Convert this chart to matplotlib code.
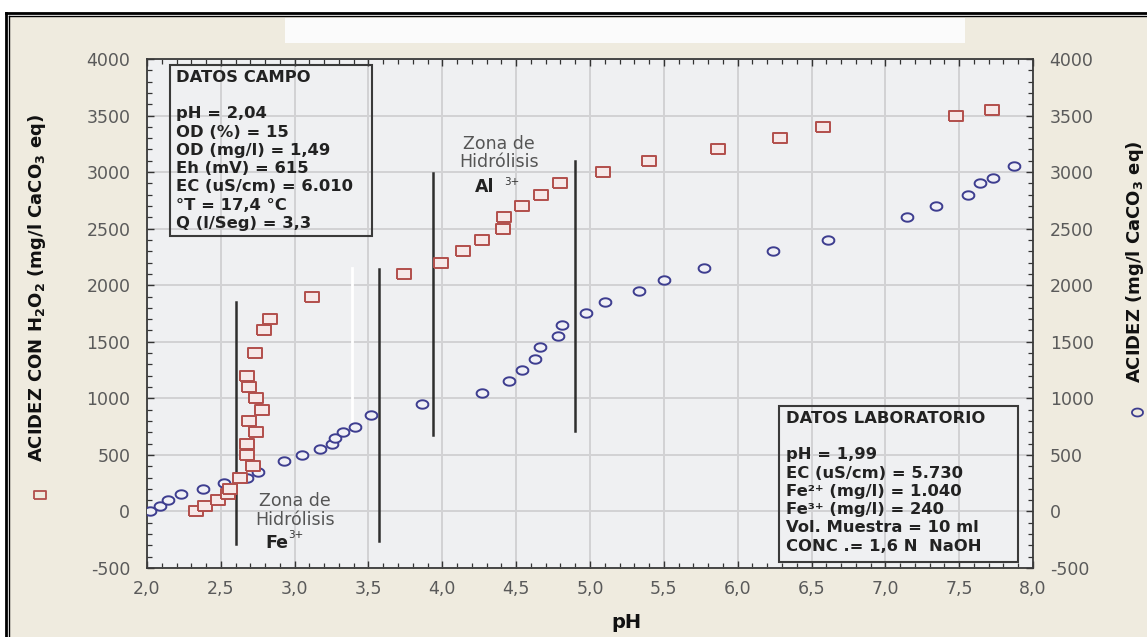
import matplotlib
matplotlib.use("Agg")
import matplotlib.pyplot as plt
from matplotlib.lines import Line2D
from matplotlib.patches import Rectangle
from matplotlib.ticker import MultipleLocator, FuncFormatter
import numpy as np

# ---------------- data ----------------
ph_h2o2 = [2.33, 2.39, 2.48, 2.55, 2.56, 2.63, 2.72, 2.675, 2.675, 2.74, 2.69, 2.78, 2.74,
           2.69, 2.675, 2.73, 2.79, 2.83, 3.12, 3.74, 3.99, 4.14, 4.27, 4.41, 4.42, 4.54,
           4.67, 4.80, 5.09, 5.40, 5.87, 6.29, 6.58, 7.48, 7.72]
acid_h2o2 = [0, 50, 100, 150, 200, 300, 400, 500, 600, 700, 800, 900, 1000,
             1100, 1200, 1400, 1600, 1700, 1900, 2100, 2200, 2300, 2400, 2500, 2600, 2700,
             2800, 2900, 3000, 3100, 3200, 3300, 3400, 3500, 3550]

ph_acid = [2.02, 2.09, 2.14, 2.23, 2.38, 2.52, 2.675, 2.75, 2.93, 3.05, 3.17, 3.25, 3.27,
           3.33, 3.41, 3.52, 3.86, 4.27, 4.45, 4.54, 4.63, 4.66, 4.78, 4.81, 4.97, 5.10,
           5.33, 5.50, 5.77, 6.24, 6.61, 7.15, 7.34, 7.56, 7.64, 7.73, 7.87]
acid = [0, 50, 100, 150, 200, 250, 300, 350, 450, 500, 550, 600, 650,
        700, 750, 850, 950, 1050, 1150, 1250, 1350, 1450, 1550, 1650, 1750, 1850,
        1950, 2050, 2150, 2300, 2400, 2600, 2700, 2800, 2900, 2950, 3050]

zone_x = [2.60, 3.57, 3.94, 4.90]
zone_bottom = [-290, -260, 680, 710]
zone_top = [1850, 2140, 2990, 3100]

campo_lines = ["DATOS CAMPO", "", "pH = 2,04", "OD (%) = 15", "OD (mg/l) = 1,49",
               "Eh (mV) = 615", "EC (uS/cm) = 6.010", "°T = 17,4 °C", "Q (l/Seg) = 3,3"]
lab_lines = ["DATOS LABORATORIO", "", "pH = 1,99", "EC (uS/cm) = 5.730",
             "Fe²⁺ (mg/l) = 1.040", "Fe³⁺ (mg/l) = 240",
             "Vol. Muestra = 10 ml", "CONC .= 1,6 N  NaOH"]

xlim = (2.0, 8.0)
ylim = (-500, 4000)

# ---------------- figure ----------------
W, H = 1147, 637
fig = plt.figure(figsize=(W / 100, H / 100), dpi=100, facecolor="white")
plt.rcParams["font.family"] = ["DejaVu Sans"]


def fx(px):
    return px / W


def fy(py):
    return 1 - py / H


# cream panel + borders
fig.add_artist(Rectangle((fx(9), 0), 1, fy(16), transform=fig.transFigure,
                         facecolor="#efebdf", edgecolor="none", zorder=-10))
fig.add_artist(Rectangle((fx(285), fy(43)), fx(965 - 285), (43 - 18) / H,
                         transform=fig.transFigure, facecolor="#fbfbfb",
                         edgecolor="none", zorder=-9))
for x in (5.5, 9.0):
    fig.add_artist(Line2D([fx(x), fx(x)], [0, fy(12.5 if x < 7 else 16)],
                          transform=fig.transFigure, color="black",
                          lw=2.0 if x < 7 else 1.0, zorder=-8))
for y, lw, x0 in ((12.5, 2.0, 5.5), (16.0, 1.0, 9.0)):
    fig.add_artist(Line2D([fx(x0), 1], [fy(y), fy(y)], transform=fig.transFigure,
                          color="black", lw=lw, zorder=-8))

ax = fig.add_axes([147 / W, 1 - 568 / H, (1033 - 147) / W, (568 - 59) / H])
ax.set_facecolor("#eff0f2")
ax.set_xlim(*xlim)
ax.set_ylim(*ylim)

ax.xaxis.set_major_locator(MultipleLocator(0.5))
ax.xaxis.set_minor_locator(MultipleLocator(0.1))
ax.yaxis.set_major_locator(MultipleLocator(500))
ax.yaxis.set_minor_locator(MultipleLocator(100))
ax.xaxis.set_major_formatter(FuncFormatter(lambda v, p: f"{v:.1f}".replace(".", ",")))
ax.yaxis.set_major_formatter(FuncFormatter(lambda v, p: f"{int(round(v))}"))

ax.grid(True, which="major", color="#d2d2d4", lw=1.4, zorder=0)
ax.set_axisbelow(True)
ax.tick_params(which="both", direction="in", top=True, right=True, color="#333333")
ax.tick_params(which="major", length=5, width=1)
ax.tick_params(which="minor", length=3.5, width=0.9)
ax.tick_params(axis="y", labelright=True, labelsize=12.5, labelcolor="#5a5a5a", pad=12)
ax.tick_params(axis="x", labelsize=12.5, labelcolor="#5a5a5a", pad=9)
for s in ax.spines.values():
    s.set_color("#3a3a3a")
    s.set_linewidth(1.3)

# marker shapes (horizontally stretched like the reference)
rect_marker = [(-0.72, -0.5), (0.72, -0.5), (0.72, 0.5), (-0.72, 0.5), (-0.72, -0.5)]
t = np.linspace(0, 2 * np.pi, 40)
ell_marker = list(zip(0.7 * np.cos(t), 0.5 * np.sin(t)))

# white artifact line
ax.plot([3.39, 3.39], [2150, 700], color="white", lw=2.0, zorder=1)

# zone lines
for x, b, tp in zip(zone_x, zone_bottom, zone_top):
    ax.plot([x, x], [b, tp], color="#2e2e2e", lw=1.8, zorder=2)

ax.plot(ph_acid, acid, linestyle="none", marker=ell_marker, markersize=8.5,
        markerfacecolor="#f0f0f6", markeredgecolor="#3d3d8f", markeredgewidth=1.4, zorder=3)
ax.plot(ph_h2o2, acid_h2o2, linestyle="none", marker=rect_marker, markersize=9.5,
        markerfacecolor="#f6e8e8", markeredgecolor="#b24e4b", markeredgewidth=1.4, zorder=4)

# zone annotations
ax.text(3.00, 10, "Zona de\nHidrólisis", ha="center", va="center", fontsize=12.5,
        color="#555555", linespacing=1.05, zorder=5)
ax.text(2.88, -277, "Fe", ha="center", va="center", fontsize=12.5, fontweight="bold",
        color="#222222", zorder=5)
ax.text(3.01, -206, "3+", ha="center", va="center", fontsize=7.5, color="#333333", zorder=5)
ax.text(4.384, 3170, "Zona de\nHidrólisis", ha="center", va="center", fontsize=12.5,
        color="#555555", linespacing=1.05, zorder=5)
ax.text(4.285, 2870, "Al", ha="center", va="center", fontsize=12.5, fontweight="bold",
        color="#222222", zorder=5)
ax.text(4.468, 2914, "3+", ha="center", va="center", fontsize=7.5, color="#333333", zorder=5)

# info boxes
def info_box(x0, y0, x1, y1, lines, tx, ty):
    ax.add_patch(Rectangle((x0, y0), x1 - x0, y1 - y0, transform=ax.transAxes,
                           facecolor="none", edgecolor="#3a3a3a", lw=1.5, zorder=6))
    ax.text(tx, ty, "\n".join(lines), transform=ax.transAxes, ha="left", va="top",
            fontsize=11.8, fontweight="bold", color="#222222", linespacing=1.27, zorder=6)

info_box((170 - 147) / 886, (568 - 236) / 509, (372 - 147) / 886, (568 - 65) / 509,
         campo_lines, (176 - 147) / 886, (568 - 70) / 509)
info_box((779 - 147) / 886, (568 - 562) / 509, (1018 - 147) / 886, (568 - 406) / 509,
         lab_lines, (786 - 147) / 886, (568 - 411) / 509)

# axis labels
fig.text(fx(626), fy(622), "pH", ha="center", va="center", fontsize=14,
         fontweight="bold", color="#111111")
fig.text(fx(37), fy(288), r"ACIDEZ CON H$_\mathbf{2}$O$_\mathbf{2}$ (mg/l CaCO$_\mathbf{3}$ eq)",
         rotation=90, ha="center", va="center", fontsize=13, fontweight="bold",
         color="#111111")
fig.text(fx(1135), fy(262), r"ACIDEZ (mg/l CaCO$_\mathbf{3}$ eq)",
         rotation=90, ha="center", va="center", fontsize=13, fontweight="bold",
         color="#111111")
fig.add_artist(Line2D([fx(40)], [fy(495)], transform=fig.transFigure, marker=rect_marker,
                      markersize=9, markerfacecolor="none", markeredgecolor="#b24e4b",
                      markeredgewidth=1.3, linestyle="none"))
fig.add_artist(Line2D([fx(1137)], [fy(412)], transform=fig.transFigure, marker=ell_marker,
                      markersize=8, markerfacecolor="none", markeredgecolor="#3d3d8f",
                      markeredgewidth=1.3, linestyle="none"))

fig.savefig("out.png", dpi=100, facecolor="white")
